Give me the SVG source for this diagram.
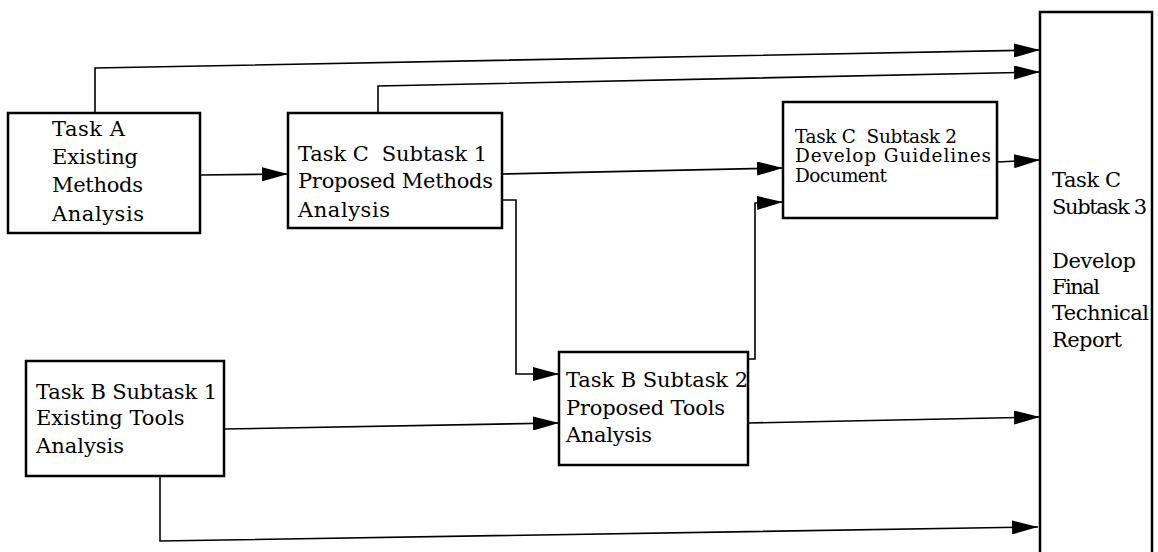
<svg xmlns="http://www.w3.org/2000/svg" width="1158" height="552" viewBox="0 0 1158 552">
<defs>
<marker id="arr" markerWidth="26" markerHeight="14" refX="26" refY="7" orient="auto" markerUnits="userSpaceOnUse">
<path d="M0,0 L26,7 L0,14 z" fill="#000"/>
</marker>
<style>
.box{fill:#fff;stroke:#000;stroke-width:2.5}
.t{font-family:"DejaVu Serif","Liberation Serif",serif;font-size:21px;fill:#000}
.s{font-family:"DejaVu Serif","Liberation Serif",serif;font-size:18.5px;fill:#000}
.c{fill:none;stroke:#000;stroke-width:1.6}
</style>
</defs>
<rect width="1158" height="552" fill="#fff"/>
<g id="connectors">
<polyline class="c" points="95,113 95,68 1040,50" marker-end="url(#arr)"/>
<polyline class="c" points="378,113 378,86 1040,72" marker-end="url(#arr)"/>
<line class="c" x1="200" y1="175" x2="288" y2="174" marker-end="url(#arr)"/>
<line class="c" x1="502" y1="174" x2="783" y2="168" marker-end="url(#arr)"/>
<polyline class="c" points="502,200 516,200 516,374 559,374" marker-end="url(#arr)"/>
<polyline class="c" points="748,359 755,359 755,203 783,202" marker-end="url(#arr)"/>
<line class="c" x1="224" y1="429" x2="559" y2="423" marker-end="url(#arr)"/>
<line class="c" x1="748" y1="423" x2="1040" y2="417" marker-end="url(#arr)"/>
<line class="c" x1="997" y1="162" x2="1040" y2="160" marker-end="url(#arr)"/>
<polyline class="c" points="160,476 160,541 1038,527" marker-end="url(#arr)"/>
</g>
<g id="taskA">
<rect class="box" x="8" y="113" width="192" height="120"/>
<text class="t" x="52" y="136" textLength="73">Task A</text>
<text class="t" x="52" y="164" textLength="86">Existing</text>
<text class="t" x="52" y="192" textLength="91">Methods</text>
<text class="t" x="52" y="221" textLength="92">Analysis</text>
</g>
<g id="taskC1">
<rect class="box" x="288" y="113" width="214" height="115"/>
<text class="t" x="298" y="161" xml:space="preserve" textLength="189">Task C  Subtask 1</text>
<text class="t" x="298" y="188" textLength="195">Proposed Methods</text>
<text class="t" x="298" y="217" textLength="92">Analysis</text>
</g>
<g id="taskC2">
<rect class="box" x="783" y="102" width="214" height="116"/>
<text class="s" x="795" y="143" xml:space="preserve" textLength="162">Task C  Subtask 2</text>
<text class="s" x="795" y="162" textLength="196">Develop Guidelines</text>
<text class="s" x="795" y="182" textLength="92">Document</text>
</g>
<g id="taskC3">
<rect class="box" x="1040" y="12" width="112" height="545"/>
<text class="t" x="1052" y="187" textLength="69">Task C</text>
<text class="t" x="1052" y="214" textLength="95">Subtask 3</text>
<text class="t" x="1052" y="268" textLength="84">Develop</text>
<text class="t" x="1052" y="294" textLength="48">Final</text>
<text class="t" x="1052" y="320" textLength="97">Technical</text>
<text class="t" x="1052" y="347" textLength="70">Report</text>
</g>
<g id="taskB1">
<rect class="box" x="26" y="361" width="198" height="115"/>
<text class="t" x="36" y="399" textLength="181">Task B Subtask 1</text>
<text class="t" x="36" y="425">Existing Tools</text>
<text class="t" x="36" y="453">Analysis</text>
</g>
<g id="taskB2">
<rect class="box" x="559" y="352" width="189" height="113"/>
<text class="t" x="566" y="387" textLength="182">Task B Subtask 2</text>
<text class="t" x="566" y="415" textLength="159">Proposed Tools</text>
<text class="t" x="566" y="442" textLength="86">Analysis</text>
</g>
</svg>
